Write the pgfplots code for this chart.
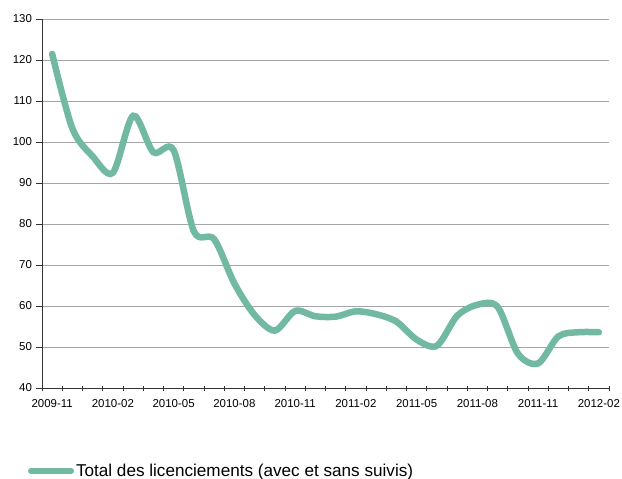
\documentclass[border=0pt]{standalone}
\usepackage{pgfplots}
\pgfplotsset{compat=1.18}
\usepackage{fontspec}
\setmainfont{Liberation Sans}
\definecolor{lineteal}{RGB}{114,185,164}
\definecolor{gridgray}{RGB}{165,165,165}

\pgfplotstableread{
i val
0 121.5
1 103.3
2 96.5
3 92.5
4 106.4
5 97.5
6 98
7 78.2
8 76.3
9 65.5
10 57.8
11 54
12 58.8
13 57.5
14 57.4
15 58.7
16 58
17 56.2
18 51.8
19 50.3
20 57.6
21 60.3
22 59.8
23 48.4
24 46
25 52.6
26 53.6
27 53.6
}\licdata

\begin{document}
\begin{tikzpicture}
\begin{axis}[
    name=ax,
    scale only axis,
    width=567bp, height=369bp,
    xmin=-0.5, xmax=27.5,
    ymin=40, ymax=130,
    axis x line*=bottom,
    axis y line*=left,
    axis line style={black!80, line width=0.8bp},
    ytick={40,50,...,130},
    ymajorgrids,
    grid style={gridgray, line width=0.8bp},
    xtick={-0.5,0.5,...,27.5},
    xticklabels={},
    extra x ticks={0,3,...,27},
    extra x tick labels={2009-11,2010-02,2010-05,2010-08,2010-11,2011-02,2011-05,2011-08,2011-11,2012-02},
    extra x tick style={major tick length=0pt, grid=none},
    y tick style={black!80, line width=0.8bp},
    ytick align=outside,
    xtick align=center,
    x tick style={black!80, line width=0.8bp, yshift=-0.5bp},
    major tick length=5.5bp,
    tick label style={font=\fontsize{11.5}{13}\selectfont},
    /pgf/number format/assume math mode=true,
    xticklabel style={yshift=-8bp},
    yticklabel style={xshift=-1bp},
    legend style={at={(-0.025,-0.224)}, anchor=west, draw=none, fill=none,
        inner sep=0pt, font=\fontsize{17.2}{19}\selectfont,
        nodes={inner sep=2bp}},
    legend image code/.code={\draw[#1, line width=6bp, line cap=round] (0bp,0bp) -- (40bp,0bp);},
]
\addplot[lineteal, line width=6.5bp, smooth, tension=0.5, line cap=round] table[x=i, y=val] {\licdata};
\addlegendentry{Total des licenciements (avec et sans suivis)}
\end{axis}
\pgfresetboundingbox
\path[use as bounding box] ([shift={(-42bp,-91bp)}]ax.south west) rectangle ++(622bp,479bp);
\end{tikzpicture}
\end{document}
